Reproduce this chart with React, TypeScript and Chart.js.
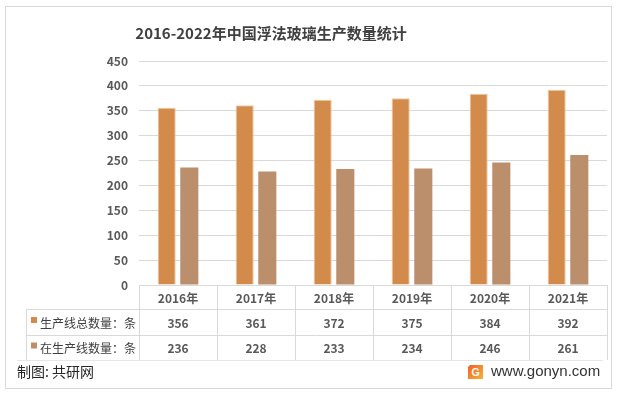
import React, { useEffect, useRef } from "react";
import { Chart, registerables } from "chart.js";

Chart.register(...registerables);

const TITLE = "2016-2022年中国浮法玻璃生产数量统计";
const categories = ["2016年", "2017年", "2018年", "2019年", "2020年", "2021年"];
const seriesTotalName = "生产线总数量：条";
const seriesTotal = [356, 361, 372, 375, 384, 392];
const seriesActiveName = "在生产线数量：条";
const seriesActive = [236, 228, 233, 234, 246, 261];
const yTicks = [0, 50, 100, 150, 200, 250, 300, 350, 400, 450];
const SOURCE = "制图: 共研网";
const SITE = "www.gonyn.com";

const COLOR_TOTAL = "#D38B4C";
const COLOR_TOTAL_BORDER = "#F2C79B";
const COLOR_ACTIVE = "#BB8E6C";
const GRID = "#D9D9D9";
const FONT = '"Noto Sans CJK SC", "Noto Sans", sans-serif';

const decorPlugin = {
  id: "decor",
  afterDraw(chart: any) {
    const ctx = chart.ctx as CanvasRenderingContext2D;
    const x = chart.scales.x;
    const area = chart.chartArea;
    const n = categories.length;
    const catW = (area.right - area.left) / n;
    const top = area.bottom;
    const r1 = top + 24;
    const r2 = r1 + 26;
    const r3 = r2 + 25;
    const legendLeft = 26;
    ctx.save();
    // outer frame
    ctx.strokeStyle = GRID;
    ctx.lineWidth = 1;
    ctx.strokeRect(5.5, 6.5, 606, 382);

    // table lines
    ctx.beginPath();
    ctx.moveTo(area.left, top + 0.5);
    ctx.lineTo(area.right, top + 0.5);
    [r1, r2].forEach((y) => {
      ctx.moveTo(legendLeft, y + 0.5);
      ctx.lineTo(area.right, y + 0.5);
    });
    for (let i = 0; i <= n; i++) {
      const xx = Math.round(area.left + i * catW) + 0.5;
      ctx.moveTo(xx, top);
      ctx.lineTo(xx, r3);
    }
    ctx.moveTo(legendLeft + 0.5, r1);
    ctx.lineTo(legendLeft + 0.5, r3);
    ctx.stroke();
    ctx.strokeStyle = "#E6E6E6";
    ctx.beginPath();
    ctx.moveTo(17, r3 + 0.5);
    ctx.lineTo(area.right - 4, r3 + 0.5);
    ctx.stroke();

    // header + values
    ctx.textAlign = "center";
    ctx.textBaseline = "middle";
    ctx.fillStyle = "#595959";
    categories.forEach((c, i) => {
      const cx = x.getPixelForValue(i);
      ctx.font = `bold 12px ${FONT}`;
      ctx.fillText(c, cx, (top + r1) / 2 + 1);
      ctx.font = `bold 12px ${FONT}`;
      ctx.fillText(String(seriesTotal[i]), cx, (r1 + r2) / 2 + 1);
      ctx.fillText(String(seriesActive[i]), cx, (r2 + r3) / 2 + 1);
    });

    // legend labels
    ctx.textAlign = "left";
    ctx.font = `12px ${FONT}`;
    ctx.fillStyle = COLOR_TOTAL;
    ctx.fillRect(31, (r1 + r2) / 2 - 5, 6, 6);
    ctx.fillStyle = COLOR_ACTIVE;
    ctx.fillRect(31, (r2 + r3) / 2 - 5, 6, 6);
    ctx.fillStyle = "#404040";
    ctx.fillText(seriesTotalName, 40, (r1 + r2) / 2 + 1);
    ctx.fillText(seriesActiveName, 40, (r2 + r3) / 2 + 1);

    // title
    ctx.textAlign = "center";
    ctx.font = `bold 15px ${FONT}`;
    ctx.fillStyle = "#404040";
    ctx.fillText(TITLE, 271, 33);

    // footer
    ctx.textAlign = "left";
    ctx.font = `14px ${FONT}`;
    ctx.fillStyle = "#262626";
    ctx.fillText(SOURCE, 17, 372);

    // logo
    const g = ctx.createLinearGradient(468, 365, 483, 379);
    g.addColorStop(0, "#F0602A");
    g.addColorStop(1, "#F9B233");
    ctx.fillStyle = g;
    ctx.beginPath();
    ctx.moveTo(470, 365);
    ctx.lineTo(483, 365);
    ctx.lineTo(483, 379);
    ctx.lineTo(468, 379);
    ctx.lineTo(468, 367);
    ctx.closePath();
    ctx.fill();
    ctx.fillStyle = "#ffffff";
    ctx.font = `bold 11px "Liberation Sans", sans-serif`;
    ctx.textAlign = "center";
    ctx.fillText("G", 475.5, 372.5);

    ctx.textAlign = "left";
    ctx.font = `15px "Liberation Sans", Arial, sans-serif`;
    ctx.fillStyle = "#333333";
    ctx.fillText(SITE, 491, 372);
    ctx.restore();
  },
};

export default function App() {
  const ref = useRef<HTMLCanvasElement>(null);
  useEffect(() => {
    document.body.style.margin = "0";
    const chart = new Chart(ref.current!, {
      type: "bar",
      data: {
        labels: categories,
        datasets: [
          {
            label: seriesTotalName,
            data: seriesTotal,
            backgroundColor: COLOR_TOTAL,
            borderColor: COLOR_TOTAL_BORDER,
            borderWidth: 1,
            categoryPercentage: 0.58,
            barPercentage: 0.8,
          },
          {
            label: seriesActiveName,
            data: seriesActive,
            backgroundColor: COLOR_ACTIVE,
            borderColor: COLOR_ACTIVE,
            borderWidth: 0,
            categoryPercentage: 0.58,
            barPercentage: 0.8,
          },
        ],
      },
      options: {
        responsive: false,
        animation: false,
        layout: { padding: { top: 61, bottom: 109, right: 10, left: 0 } },
        plugins: {
          legend: { display: false },
          title: { display: false },
          tooltip: { enabled: false },
        },
        scales: {
          x: { display: false },
          y: {
            min: 0,
            max: 450,
            afterBuildTicks: (s: any) => {
              s.ticks = yTicks.map((v) => ({ value: v }));
            },
            afterFit: (s: any) => {
              s.width = 139;
            },
            border: { display: false },
            grid: { color: GRID, drawTicks: false, lineWidth: 1 },
            ticks: {
              padding: 11,
              color: "#595959",
              font: { family: FONT, size: 12, weight: "bold" },
            },
          },
        },
      },
      plugins: [decorPlugin],
    });
    return () => chart.destroy();
  }, []);
  return (
    <div style={{ position: "absolute", left: 0, top: 0, width: 617, height: 394, background: "#fff" }}>
      <canvas ref={ref} width={617} height={394} />
    </div>
  );
}
